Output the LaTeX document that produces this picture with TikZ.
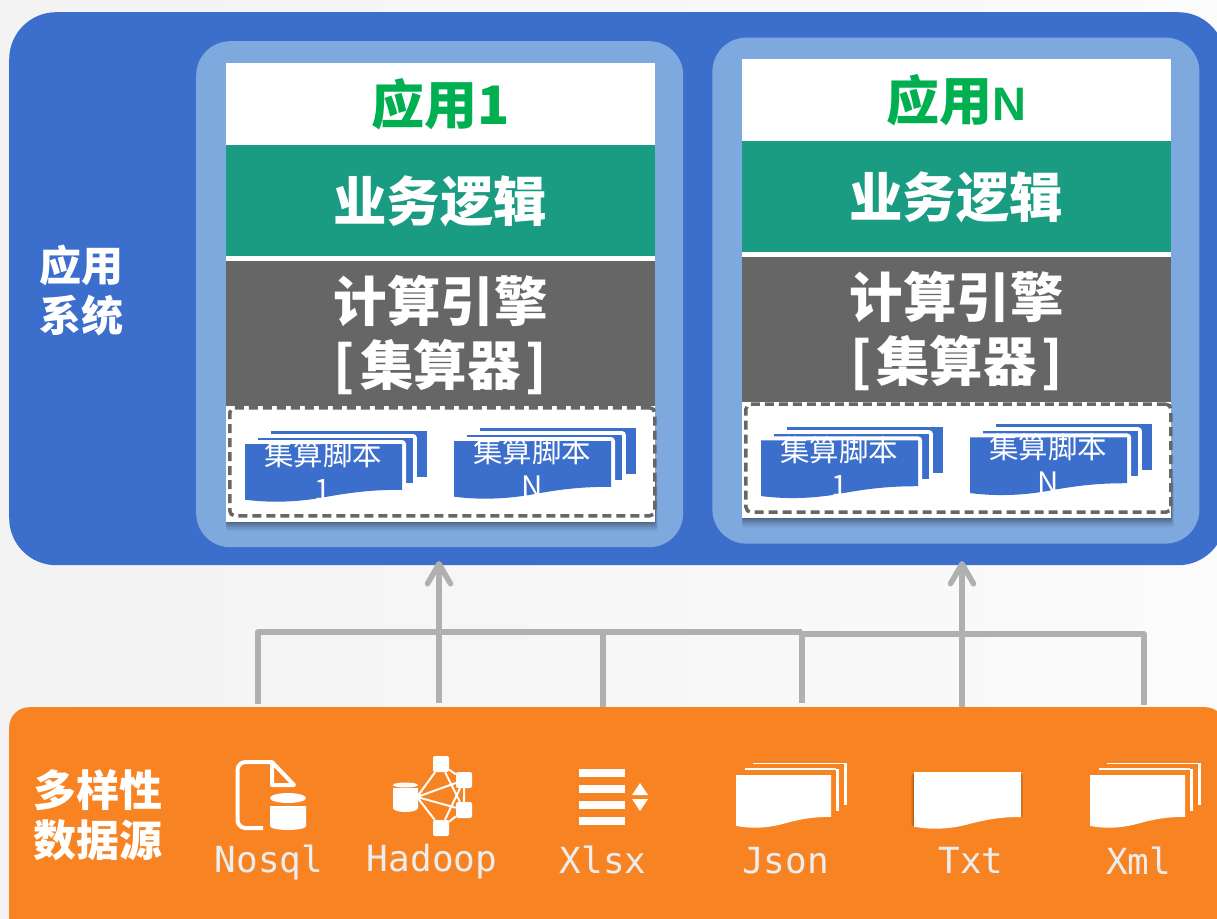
\documentclass[tikz,border=0pt]{standalone}
\usepackage{fontspec}
\setmainfont{Liberation Sans}
\newfontfamily\cjk{Noto Sans CJK SC}
\newfontfamily\monof{DejaVu Sans Mono}
\usetikzlibrary{arrows.meta,positioning}
\definecolor{bluemain}{HTML}{3C6ECC}
\definecolor{bluelight}{HTML}{7EA9DE}
\definecolor{greenbar}{HTML}{1A9C82}
\definecolor{greyb}{HTML}{666666}
\definecolor{orangeb}{HTML}{F88322}
\definecolor{linegrey}{HTML}{B0B0B0}
\definecolor{titlegreen}{HTML}{00B050}
\definecolor{labelgrey}{HTML}{EDEDED}
\definecolor{bgleft}{HTML}{F3F3F3}
\definecolor{bgright}{HTML}{FBFBFB}
\tikzset{
  x=1pt,y=-1pt,
  band/.style={draw=none,inner sep=0pt,outer sep=0pt,minimum width=429pt,anchor=north west,align=center,text=white},
  headtxt/.style={inner sep=0pt,align=center,text=white,font=\cjk\bfseries\fontsize{53.5}{64}\selectfont},
  sidetxt/.style={text=white,inner sep=0pt,align=center},
  srclabel/.style={inner sep=0pt,anchor=base,text=labelgrey,font=\monof\fontsize{36}{40}\selectfont},
  scripttxt/.style={inner sep=0pt,text=white,align=center,font=\cjk\fontsize{29.5}{35}\selectfont},
  bus/.style={draw=linegrey,line width=5.5pt,line join=round},
  uparrow/.style={bus,-{Straight Barb[round,length=20pt,width=23pt,line width=5.5pt]}},
  smallnode/.style={fill=white,rounded corners=2pt,minimum size=16pt,inner sep=0pt},
  net/.style={draw=white,line width=2pt},
}
% unit-square wavy document; #1 x, #2 y, #3 w, #4 h, #5 path options
\newcommand{\wavydoc}[5]{%
  \begin{scope}[shift={(#1,#2)},x=#3pt,y={(0pt,-#4pt)}]
    \path[#5] (0,0) -- (1,0) -- (1,.79) .. controls (.85,.79) and (.72,.81) .. (.5,.92)
       .. controls (.38,.98) and (.2,1.03) .. (0,.96) -- cycle;
  \end{scope}}
% script stack, #1 x of front doc, #2 y of front doc, #3 last line, #4 name
\newcommand{\scriptstack}[4]{%
  \begin{scope}[shift={(#1,#2)}]
    \fill[bluemain] (26,-13) rectangle (182,33);
    \fill[white,draw=white,line width=8pt,line join=round] (13,-6) rectangle (168,39);
    \fill[bluemain] (13,-6) rectangle (168,39);
    \wavydoc{0}{0}{157}{58}{fill=white,draw=white,line width=8pt,line join=round}
    \wavydoc{0}{0}{157}{58}{fill=bluemain}
    \node[scripttxt,anchor=north] (#4) at (78,-4) {集算脚本\\#3};
  \end{scope}}
% application card
\newcommand{\appcard}[4]{%
  \begin{scope}[shift={(#1,#2)},name prefix=#4-]
    \node[fill=bluelight,rounded corners=34pt,minimum width=487pt,minimum height=506pt,inner sep=0pt,anchor=north west] (panel) at (196,41) {};
    \foreach \s/\o in {9/.05,7/.07,5/.09,3/.11,1/.13}{
      \fill[black,opacity=\o,rounded corners=2pt] (226,480) rectangle (655+\s*.3,522+\s);
    }
    \node[band,fill=white,minimum height=459pt] (card) at (226,63) {};
    \node[band,fill=white,minimum height=82pt,text=titlegreen,font=\cjk\bfseries\fontsize{53}{60}\selectfont] (title) at (226,63) {\raisebox{2pt}{#3}};
    \node[band,fill=greenbar,minimum height=111pt] (logic) at (226,145) {};
    \node[headtxt] (logictxt) at (440,201) {业务逻辑};
    \node[band,fill=greyb,minimum height=145pt] (engine) at (226,261) {};
    \node[headtxt] (enginetxt) at (440.5,335) {计算引擎\\{[}\hspace{5pt}集算器\hspace{5pt}{]}};
    \scriptstack{245}{444}{1}{s1}
    \scriptstack{454}{441}{N}{sn}
    \node[draw=greyb,dash pattern=on 9pt off 5pt,line width=3.5pt,rounded corners=5pt,minimum width=425pt,minimum height=108pt,inner sep=0pt,anchor=north west] (scripts) at (228,406) {};
  \end{scope}}
% stacked documents on orange
\newcommand{\filestack}[1]{%
  \begin{scope}[shift={(#1,0)}]
    \draw[white,line width=1.5pt] (17,763.5) -- (109,763.5);
    \fill[white] (108,763) rectangle (111,805);
    \draw[white,line width=1.5pt] (9,769) -- (100,769);
    \fill[white] (100,768.5) rectangle (102.5,811);
    \wavydoc{0}{775}{95}{53}{fill=white}
  \end{scope}}
\begin{document}
\begin{tikzpicture}
\useasboundingbox (0,0) rectangle (1217,918);
\clip (0,0) rectangle (1217,918);
\shade[left color=bgleft,right color=bgright] (0,0) rectangle (1217,918);
% main panels
\node[fill=bluemain,rounded corners=47pt,minimum width=1216pt,minimum height=553pt,inner sep=0pt,anchor=north west] (apppanel) at (9,12) {};
\node[fill=orangeb,rounded corners=20pt,minimum width=1216pt,minimum height=240pt,inner sep=0pt,anchor=north west] (srcpanel) at (9,707) {};
\node[sidetxt,font=\cjk\bfseries\fontsize{42}{50}\selectfont] (applabel) at (81,290) {应用\\系统};
\node[sidetxt,font=\cjk\bfseries\fontsize{43}{50}\selectfont] (srclabel) at (98,815) {多样性\\数据源};
\appcard{0}{0}{应用1}{a}
\appcard{516.2}{-3.6}{应用{\fontspec{Liberation Sans}\fontsize{47}{60}\selectfont N}}{b}
% connector anchors
\coordinate (bus1) at (258,632);
\coordinate (bus2) at (439,632);
\coordinate (bus3) at (603,632);
\coordinate (bus4) at (802,632);
\coordinate (bus4b) at (802,634);
\coordinate (bus5) at (962,634);
\coordinate (bus6) at (1144,634);
\coordinate (in1) at (258,704);
\coordinate (in2) at (439,703);
\coordinate (in3) at (603,707);
\coordinate (in4) at (802,703);
\coordinate (in5) at (962,707);
\coordinate (in6) at (1144,705);
\coordinate (out1) at (439,561);
\coordinate (out2) at (962,561);
\draw[bus] (in1) -- (bus1) -- (bus4);
\draw[bus] (bus4b) -- (bus6) -- (in6);
\draw[bus] (in3) -- (bus3);
\draw[bus] (in4) -- (bus4);
\draw[uparrow] (in2) -- (out1);
\draw[uparrow] (in5) -- (out2);
% Nosql icon
\draw[white,line width=4pt,line join=round,rounded corners=8pt] (263,828) -- (237.5,828) -- (237.5,762) -- (272,762);
\draw[white,line width=4pt,line join=round] (272,762) -- (294,785) -- (272,785) -- cycle;
\fill[white] (270,806) -- (306,806) -- (306,826) arc (0:180:18pt and -4pt) -- cycle;
\fill[white] (288,798) ellipse (18pt and 5pt);
% Hadoop icon
\node[smallnode] (h1) at (441,764) {};
\node[smallnode] (h2) at (464,780) {};
\node[smallnode] (h3) at (464,810) {};
\node[smallnode] (h4) at (441,828) {};
\coordinate (h0) at (417,797);
\draw[net] (h0) -- (h1) (h0) -- (h2) (h0) -- (h3) (h0) -- (h4)
  (h1) -- (h2) (h1) -- (h3) (h2) -- (h3) (h2) -- (h4) (h3) -- (h4);
\fill[white] (393,788) -- (418,788) -- (418,808) arc (0:180:12.5pt and -4pt) -- cycle;
\fill[white] (405.5,785) ellipse (12.5pt and 2.5pt);
% Xlsx icon
\foreach \yy in {769,785,801,817}{\fill[white] (579,\yy) rectangle (625,\yy+8);}
\fill[white] (632,795) -- (640,783) -- (648,795) -- cycle;
\fill[white] (632,799) -- (640,811) -- (648,799) -- cycle;
% file icons
\filestack{736}
\foreach \s/\o in {8/.06,6/.07,4/.09,2/.1}{
  \wavydoc{914-\s*.35}{772+\s*.4}{107+\s*.6}{57+\s*.6}{fill=black,opacity=\o}
}
\wavydoc{914}{772}{107}{57}{fill=white}
\filestack{1090}
% labels
\node[srclabel] (lnosql) at (269,872) {Nosql};
\node[srclabel] (lhadoop) at (432,871) {Hadoop};
\node[srclabel] (lxlsx) at (603,873) {Xlsx};
\node[srclabel] (ljson) at (785.5,873) {Json};
\node[srclabel] (ltxt) at (971,873) {Txt};
\node[srclabel] (lxml) at (1138.5,874) {Xml};
\end{tikzpicture}
\end{document}
